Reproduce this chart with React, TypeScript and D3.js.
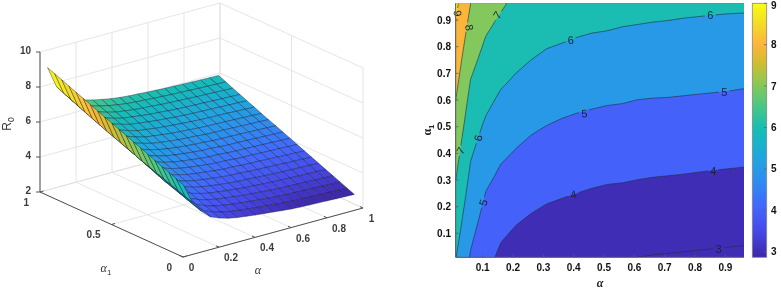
import React from "react";
import * as d3 from "d3";

// alpha and alpha1 sample positions
const alphaGrid = [0.01,0.06,0.11,0.16,0.21,0.26,0.31,0.36,0.41,0.46,0.51,0.56,0.61,0.66,0.71,0.76,0.81,0.86,0.91,0.96];
const alpha1Grid = [0.01,0.06,0.11,0.16,0.21,0.26,0.31,0.36,0.41,0.46,0.51,0.56,0.61,0.66,0.71,0.76,0.81,0.86,0.91,0.96];

// R0, one list per alpha, running along alpha1
const zA01 = [6.05,6.22,6.39,6.55,6.72,6.89,7.06,7.22,7.39,7.56,7.73,7.89,8.06,8.23,8.40,8.56,8.73,8.90,9.07,9.23];
const zA06 = [4.92,5.07,5.22,5.37,5.52,5.67,5.82,5.97,6.13,6.29,6.45,6.61,6.77,6.94,7.11,7.28,7.46,7.64,7.82,8.00];
const zA11 = [4.27,4.42,4.57,4.72,4.87,5.01,5.19,5.37,5.54,5.72,5.89,6.07,6.24,6.41,6.57,6.74,6.90,7.07,7.23,7.40];
const zA16 = [3.82,3.98,4.15,4.32,4.49,4.66,4.83,5.00,5.18,5.36,5.54,5.71,5.89,6.07,6.24,6.41,6.58,6.76,6.93,7.10];
const zA21 = [3.60,3.77,3.93,4.10,4.27,4.45,4.62,4.79,4.97,5.14,5.31,5.48,5.66,5.86,6.03,6.19,6.35,6.51,6.67,6.82];
const zA26 = [3.45,3.62,3.78,3.95,4.12,4.29,4.46,4.63,4.80,4.97,5.14,5.32,5.50,5.68,5.86,6.03,6.19,6.35,6.52,6.68];
const zA31 = [3.35,3.51,3.68,3.84,4.00,4.17,4.34,4.51,4.68,4.85,5.02,5.19,5.36,5.53,5.71,5.89,6.06,6.22,6.40,6.57];
const zA36 = [3.28,3.44,3.60,3.77,3.93,4.10,4.27,4.43,4.60,4.77,4.93,5.10,5.28,5.46,5.64,5.82,5.99,6.15,6.31,6.47];
const zA41 = [3.22,3.38,3.54,3.70,3.87,4.03,4.20,4.37,4.53,4.70,4.87,5.03,5.21,5.39,5.57,5.75,5.92,6.08,6.24,6.40];
const zA46 = [3.16,3.32,3.48,3.64,3.81,3.97,4.14,4.31,4.47,4.64,4.81,4.98,5.15,5.33,5.51,5.69,5.86,6.03,6.19,6.35];
const zA51 = [3.11,3.27,3.43,3.59,3.75,3.92,4.09,4.25,4.42,4.59,4.76,4.93,5.11,5.29,5.47,5.65,5.82,6.00,6.16,6.32];
const zA56 = [3.05,3.22,3.39,3.56,3.73,3.90,4.07,4.24,4.41,4.58,4.75,4.91,5.08,5.25,5.43,5.60,5.78,5.95,6.12,6.28];
const zA61 = [3.00,3.17,3.34,3.51,3.68,3.86,4.03,4.19,4.36,4.53,4.70,4.86,5.03,5.21,5.39,5.57,5.74,5.92,6.09,6.25];
const zA66 = [2.97,3.14,3.31,3.48,3.65,3.83,4.00,4.17,4.33,4.50,4.67,4.84,5.01,5.18,5.36,5.54,5.71,5.89,6.06,6.22];
const zA71 = [2.95,3.12,3.29,3.46,3.63,3.80,3.98,4.15,4.32,4.49,4.66,4.83,5.00,5.17,5.34,5.52,5.69,5.87,6.04,6.20];
const zA76 = [2.93,3.10,3.27,3.44,3.61,3.78,3.96,4.13,4.30,4.47,4.64,4.81,4.98,5.15,5.33,5.50,5.67,5.84,6.01,6.18];
const zA81 = [2.91,3.08,3.25,3.42,3.59,3.76,3.93,4.11,4.28,4.45,4.62,4.79,4.96,5.13,5.31,5.48,5.65,5.82,5.99,6.16];
const zA86 = [2.89,3.06,3.23,3.40,3.57,3.74,3.91,4.08,4.26,4.43,4.60,4.77,4.94,5.11,5.28,5.46,5.63,5.80,5.97,6.14];
const zA91 = [2.87,3.04,3.21,3.38,3.55,3.72,3.89,4.06,4.24,4.41,4.58,4.75,4.92,5.09,5.26,5.44,5.61,5.78,5.95,6.13];
const zA96 = [2.85,3.02,3.19,3.36,3.53,3.70,3.87,4.04,4.22,4.39,4.56,4.73,4.89,5.06,5.24,5.41,5.59,5.76,5.94,6.12];
const zColumns = [zA01,zA06,zA11,zA16,zA21,zA26,zA31,zA36,zA41,zA46,zA51,zA56,zA61,zA66,zA71,zA76,zA81,zA86,zA91,zA96];

const contourLevels = [3,4,5,6,7,8,9];
const xTicks3d = [0,0.2,0.4,0.6,0.8,1];
const yTicks3d = [0,0.5,1];
const zTicks3d = [2,4,6,8,10];
const mapTicks = [0.1,0.2,0.3,0.4,0.5,0.6,0.7,0.8,0.9];
const barTicks = [3,4,5,6,7,8,9];

// contour labels: level, anchor in data space, rotation
const contourLabels: [number,number,number,number][] = [
  [9,0.018,0.925,85],[8,0.056,0.872,80],[7,0.148,0.919,-55],[6,0.390,0.825,-5],
  [5,0.435,0.550,-3],[6,0.850,0.919,0],[5,0.896,0.630,0],[6,0.085,0.457,-80],
  [7,0.027,0.410,-60],[5,0.102,0.216,-75],[4,0.399,0.246,-10],[4,0.860,0.335,0],[3,0.877,0.041,0],
];

// parula-like colour stops
const parulaAt = [0,0.1,0.2,0.3,0.4,0.5,0.6,0.7,0.77,0.84,0.92,1];
const parulaStops = ["#3e26a8","#4748e8","#4367fd","#2f8cf0","#1fa8dc","#15bcb8","#4cc784","#97c84e","#d4bc30","#fdb53c","#f3dc28","#f9fb15"];
const parula = d3.scaleLinear<string>().domain(parulaAt).range(parulaStops).interpolate(d3.interpolateRgb).clamp(true);

const surfColor = d3.scaleLinear().domain([2.85,9.23]).range([0,1]);
const fillColor = d3.scaleLinear().domain([2.87,9]).range([0,1]);

// 3D projection scales
const px = d3.scaleLinear().domain([0,1]).range([0,180]);
const pxY = d3.scaleLinear().domain([0,1]).range([0,-143]);
const pyX = d3.scaleLinear().domain([0,1]).range([0,-49]);
const pyY = d3.scaleLinear().domain([0,1]).range([0,-65]);
const pz = d3.scaleLinear().domain([2,10]).range([0,-140]);
const proj = (a:number,b:number,z:number):[number,number] => [183+px(a)+pxY(b), 257+pyX(a)+pyY(b)+pz(z)];

const FONT = "'Liberation Sans', Arial, sans-serif";
const GRID = "#dedede";
const AX = "#505050";

function Surface3D(){
  const seg=(a:[number,number,number],b:[number,number,number],k:string)=>{
    const p=proj(...a),q=proj(...b);
    return <line key={k} x1={p[0]} y1={p[1]} x2={q[0]} y2={q[1]} stroke={GRID} strokeWidth={0.8}/>;
  };
  const facets:{i:number,j:number}[]=[];
  for(let i=0;i<alphaGrid.length-1;i++)for(let j=0;j<alpha1Grid.length-1;j++)facets.push({i,j});
  facets.sort((p,q)=>(q.i+q.j)-(p.i+p.j));
  const line=d3.line();
  const axis=(a:[number,number,number],b:[number,number,number])=>{
    const p=proj(...a),q=proj(...b);
    return <line x1={p[0]} y1={p[1]} x2={q[0]} y2={q[1]} stroke={AX} strokeWidth={1}/>;
  };
  return <g>
    {zTicks3d.map(z=><g key={"z"+z}>{seg([0,1,z],[1,1,z],"a")}{seg([1,1,z],[1,0,z],"d")}</g>)}
    {xTicks3d.map(a=><g key={"xg"+a}>{seg([a,1,2],[a,1,10],"a")}{seg([a,0,2],[a,1,2],"b")}</g>)}
    {yTicks3d.map(b=><g key={"yg"+b}>{seg([1,b,2],[1,b,10],"a")}{seg([0,b,2],[1,b,2],"b")}</g>)}
    {facets.map(({i,j})=>{
      const c=[[i,j],[i+1,j],[i+1,j+1],[i,j+1]].map(([u,v])=>proj(alphaGrid[u],alpha1Grid[v],zColumns[u][v]));
      return <path key={i+"-"+j} d={line(c as [number,number][])+"Z"} fill={parula(surfColor(zColumns[i][j]))} stroke="#101028" strokeOpacity={0.85} strokeWidth={0.45} strokeLinejoin="round"/>;
    })}
    {axis([0,1,2],[0,1,10])}
    {axis([0,1,2],[0,0,2])}
    {axis([0,0,2],[1,0,2])}
    {zTicks3d.map(z=>{const p=proj(0,1,z);return <g key={"zt"+z}>
      <line x1={p[0]} y1={p[1]} x2={p[0]-4} y2={p[1]} stroke={AX} strokeWidth={1}/>
      <text x={31} y={p[1]+(z===2?2:1.5)} textAnchor="end" fontSize={10} fontWeight="bold" fill="#3c3c3c" fontFamily={FONT}>{z}</text></g>;})}
    {xTicks3d.map(a=>{const p=proj(a,0,2);return <g key={"xt"+a}>
      <line x1={p[0]} y1={p[1]} x2={p[0]-3} y2={p[1]-1.4} stroke={AX} strokeWidth={1}/>
      <text x={p[0]+(String(a).length>1?12:8.5)} y={p[1]+14} textAnchor="middle" fontSize={10} fontWeight="bold" fill="#3c3c3c" fontFamily={FONT}>{a}</text></g>;})}
    {yTicks3d.map(b=>{const p=proj(0,b,2);return <g key={"yt"+b}>
      <line x1={p[0]} y1={p[1]} x2={p[0]+3.5} y2={p[1]-1} stroke={AX} strokeWidth={1}/>
      <text x={p[0]-11} y={p[1]+13.5} textAnchor="end" fontSize={10} fontWeight="bold" fill="#3c3c3c" fontFamily={FONT}>{b}</text></g>;})}
    <text x={258} y={274} textAnchor="middle" fontSize={12} fontStyle="italic" fill="#333" fontFamily="'Liberation Serif', serif">α</text>
    <text x={106} y={272} textAnchor="middle" fontSize={12} fontStyle="italic" fill="#333" fontFamily="'Liberation Serif', serif">α<tspan fontStyle="normal" fontFamily={FONT} fontSize={8} dy={3}>1</tspan></text>
    <text transform="translate(11,124) rotate(-90)" textAnchor="middle" fontSize={12} fill="#333" fontFamily={FONT}>R<tspan fontSize={8.5} dy={3}>0</tspan></text>
  </g>;
}

function ContourMap(){
  const x=d3.scaleLinear().domain([0.011,0.961]).range([455.7,744]);
  const y=d3.scaleLinear().domain([0.01,0.963]).range([257.3,3.3]);
  const n=alphaGrid.length, m=alpha1Grid.length;
  const values:number[]=[];
  for(let j=0;j<m;j++)for(let i=0;i<n;i++)values.push(zColumns[i][j]);
  const gridX=d3.scaleLinear().domain([0,...d3.range(n).map(i=>i+0.5),n]).range([alphaGrid[0]-0.03,...alphaGrid,alphaGrid[n-1]+0.03]);
  const gridY=d3.scaleLinear().domain([0,...d3.range(m).map(i=>i+0.5),m]).range([alpha1Grid[0]-0.03,...alpha1Grid,alpha1Grid[m-1]+0.03]);
  const path=d3.geoPath(d3.geoTransform({point(this:any,a:number,b:number){this.stream.point(x(gridX(a)),y(gridY(b)));}}));
  const cs=d3.contours().size([n,m]).smooth(true).thresholds(contourLevels)(values);
  const barY=d3.scaleLinear().domain([3,9]).range([251.7,3.3]);
  const barStops=d3.range(257,3,-1);
  return <g>
    <defs>
      <clipPath id="plot"><rect x={455.7} y={3.3} width={288.3} height={254}/></clipPath>
      <mask id="gaps" maskUnits="userSpaceOnUse" x={440} y={0} width={320} height={270}>
        <rect x={440} y={0} width={320} height={270} fill="white"/>
        {contourLabels.map(([l,a,b],k)=><circle key={k} cx={x(a)} cy={y(b)} r={5.5} fill="black"/>)}
      </mask>
    </defs>
    <g clipPath="url(#plot)">
      <rect x={455.7} y={3.3} width={288.3} height={254} fill={parula(fillColor(3))}/>
      {cs.map(c=><path key={c.value} d={path(c as any)||""} fill={parula(fillColor(c.value))}/>)}
      <g mask="url(#gaps)">
        {cs.map(c=><path key={c.value} d={path(c as any)||""} fill="none" stroke="#1f2f3f" strokeWidth={0.6}/>)}
      </g>
    </g>
    {contourLabels.map(([l,a,b,r],k)=><text key={k} transform={`translate(${x(a)},${y(b)}) rotate(${r})`} textAnchor="middle" dy="0.36em" fontSize={11} fill="#1a2430" fontFamily={FONT}>{l}</text>)}
    <line x1={455.7} y1={3.3} x2={455.7} y2={257.3} stroke="#5a5a5a" strokeWidth={1}/>
    <line x1={455.7} y1={257.3} x2={744} y2={257.3} stroke="#5a5a5a" strokeWidth={1}/>
    {mapTicks.map(t=>{const X=452.4+303.3*t,Y=260-266.6*t;return <g key={t}>
      <line x1={X} y1={257.3} x2={X} y2={254.5} stroke="#5a5a5a" strokeWidth={0.8}/>
      <line x1={455.7} y1={Y} x2={458.5} y2={Y} stroke="#5a5a5a" strokeWidth={0.8}/>
      <text x={X} y={271} textAnchor="middle" fontSize={10} fontWeight="bold" fill="#111" fontFamily={FONT}>{t}</text>
      <text x={451} y={Y+3.5} textAnchor="end" fontSize={10} fontWeight="bold" fill="#111" fontFamily={FONT}>{t}</text></g>;})}
    <text x={600} y={287} textAnchor="middle" fontSize={12} fontWeight="bold" fontStyle="italic" fill="#222" fontFamily="'Liberation Serif', serif">α</text>
    <text transform="translate(431,130) rotate(-90)" textAnchor="middle" fontSize={12} fontWeight="bold" fill="#222" fontFamily="'Liberation Serif', serif">α<tspan fontSize={8} dy={3} fontFamily={FONT}>1</tspan></text>
    {barStops.map(py=><rect key={py} x={752.3} y={py-1} width={14.4} height={1.3} fill={parula(fillColor(barY.invert(py-0.5)))}/>)}
    <rect x={752.3} y={3.3} width={14.4} height={254} fill="none" stroke="#888" strokeWidth={0.8}/>
    {barTicks.map(t=><g key={t}>
      <line x1={764} y1={barY(t)} x2={766.7} y2={barY(t)} stroke="#666" strokeWidth={0.8}/>
      <text x={771} y={Math.max(barY(t)+3.5,8.5)} fontSize={10} fontWeight="bold" fill="#111" fontFamily={FONT}>{t}</text></g>)}
  </g>;
}

export default function App(){
  return <svg width={781} height={289} viewBox="0 0 781 289" style={{position:"absolute",left:0,top:0,background:"#fff",filter:"blur(0.3px)"}}>
    <Surface3D/>
    <ContourMap/>
  </svg>;
}
